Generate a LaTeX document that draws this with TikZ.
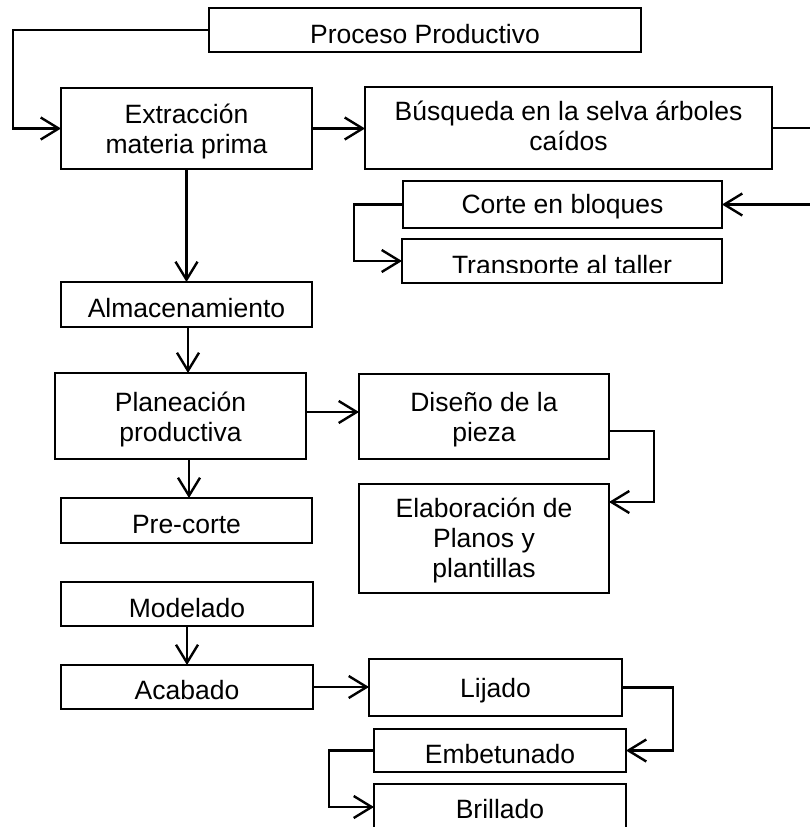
\documentclass[tikz,border=0pt]{standalone}
\usepackage{fontspec}
\setmainfont{Liberation Sans}
\usetikzlibrary{arrows.meta}
\newcommand\mylines[1]{\begin{tabular}[t]{@{}c@{}}#1\end{tabular}}
\newcommand\mkbox[5]{\node[box,minimum width={(#4-#2)*1pt},minimum height={(#5-#3)*1pt}] (#1) at ({(#2+#4)/2},{(#3+#5)/2}) {};}
\begin{document}
\begin{tikzpicture}[x=1pt,y=-1pt,
  box/.style={draw,line width=1.4pt,inner sep=0pt,outer sep=0pt},
  txt/.style={anchor=base,inner sep=0pt,font=\fontsize{26.5}{30}\selectfont},
  arr/.style={draw,line width=2.4pt,-{Straight Barb[length=18pt,width=22pt]}}]
\useasboundingbox (0,0) rectangle (810,827);
\clip (0,0) rectangle (810,827);
% boxes
\mkbox{proc}{209}{8}{641}{52}
\mkbox{ext}{61}{88}{312}{169}
\mkbox{bus}{365}{87}{772}{169}
\mkbox{corte}{403}{181}{722}{228}
\mkbox{trans}{402}{239}{722}{283}
\mkbox{alm}{61}{282}{312}{327}
\mkbox{plan}{55}{373}{306}{459}
\mkbox{pre}{61}{498}{312}{543}
\mkbox{dis}{359}{374}{609}{459}
\mkbox{elab}{359}{484}{609}{593}
\mkbox{mod}{61}{582}{313}{626}
\mkbox{acab}{61}{665}{313}{709}
\mkbox{lij}{369}{659}{622}{716}
\mkbox{emb}{374}{729}{626}{772}
\mkbox{bri}{374}{784}{626}{830}
% texts
\node[txt] (proc-t) at (425,43) {Proceso Productivo};
\node[txt] (ext-t) at (186.5,123) {\mylines{Extracción\\materia prima}};
\node[txt] (bus-t) at (568.5,120) {\mylines{Búsqueda en la selva árboles\\caídos}};
\node[txt] (corte-t) at (562.5,213) {Corte en bloques};
\begin{scope}
\clip (402,239) rectangle (722,272.5);
\node[txt] (trans-t) at (562,274) {Transporte al taller};
\end{scope}
\node[txt] (alm-t) at (186.5,317) {Almacenamiento};
\node[txt] (plan-t) at (180.5,411) {\mylines{Planeación\\productiva}};
\node[txt] (pre-t) at (186.5,533) {Pre-corte};
\node[txt] (dis-t) at (484,411) {\mylines{Diseño de la\\pieza}};
\node[txt] (elab-t) at (484,517) {\mylines{Elaboración de\\Planos y\\plantillas}};
\node[txt] (mod-t) at (187,617) {Modelado};
\node[txt] (acab-t) at (187,699) {Acabado};
\node[txt] (lij-t) at (495.5,697) {Lijado};
\node[txt] (emb-t) at (500,763) {Embetunado};
\node[txt] (bri-t) at (500,818) {Brillado};
% connectors
\draw[arr] (proc.west) -- ++(-196,0) |- (ext.west);
\draw[arr] (ext.east) -- (ext.east -| bus.west);
\draw[arr] (bus.east) -- ++(60,0) |- (corte.east);
\draw[arr] (corte.west) -- ++(-49,0) |- (trans.west);
\draw[arr] (ext.south) -- (ext.south |- alm.north);
\draw[arr] ([xshift=1.5pt]alm.south) -- ([xshift=1.5pt]alm.south |- plan.north);
\draw[arr] ([yshift=4pt]plan.east) -- ([yshift=4pt]plan.east -| dis.west);
\draw[arr] ([xshift=8.5pt]plan.south) -- ([xshift=8.5pt]plan.south |- pre.north);
\draw[arr] ([yshift=-14.5pt]dis.east) -- ++(45,0) |- ([yshift=36.5pt]elab.east);
\draw[arr] (mod.south) -- (acab.north);
\draw[arr] (acab.east) -- (acab.east -| lij.west);
\draw[arr] (lij.east) -- ++(51,0) |- (emb.east);
\draw[arr] (emb.west) -- ++(-45,0) |- (bri.west);
\end{tikzpicture}
\end{document}
